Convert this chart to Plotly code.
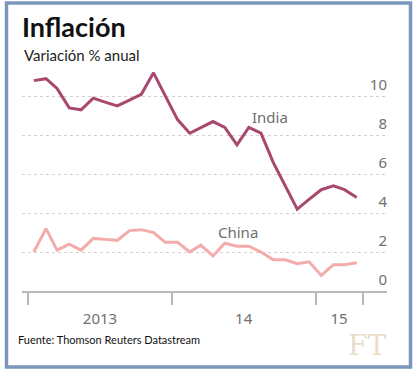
import plotly.graph_objects as go

months = [f"{y}-{m:02d}-15" for y, m in
          [(2013, m) for m in range(1, 13)] + [(2014, m) for m in range(1, 13)] + [(2015, m) for m in range(1, 5)]]

india = [10.8, 10.9, 10.4, 9.4, 9.3, 9.9, 9.7, 9.5, 9.8, 10.1, 11.2, 10.0,
         8.8, 8.1, 8.4, 8.7, 8.4, 7.5, 8.4, 8.1, 6.6, 5.4, 4.2, 4.7,
         5.2, 5.4, 5.2, 4.8]
china = [2.0, 3.2, 2.1, 2.4, 2.1, 2.7, 2.65, 2.6, 3.1, 3.15, 3.0, 2.5,
         2.5, 2.0, 2.35, 1.8, 2.45, 2.3, 2.3, 2.0, 1.6, 1.6, 1.4, 1.5,
         0.8, 1.35, 1.35, 1.45]

y_ticks = [0, 2, 4, 6, 8, 10]
x_tick_marks = ["2013-01-01", "2014-01-01", "2015-01-01", "2015-05-01"]
x_label_pos = ["2013-07-02", "2014-07-02", "2015-03-01"]
x_labels = ["2013", "14", "15"]

W, H = 414, 372
L, R, T, B = 22, 27, 67, 81
PW, PH = W - L - R, H - T - B


def px(x):
    return (x - L) / PW


def py(y):
    return (H - B - y) / PH


INDIA_C = "#a8486e"
CHINA_C = "#f3abab"
GRID_C = "#d8d0d0"
AXIS_C = "#b8b8b8"
TXT_C = "#707070"

fig = go.Figure()
fig.add_trace(go.Scatter(x=months, y=india, mode="lines", name="India",
                         line=dict(color=INDIA_C, width=3), hoverinfo="skip"))
fig.add_trace(go.Scatter(x=months, y=china, mode="lines", name="China",
                         line=dict(color=CHINA_C, width=3), hoverinfo="skip"))
# invisible traces for the label axes
fig.add_trace(go.Scatter(x=[months[0]], y=[0], xaxis="x2", yaxis="y2", mode="markers",
                         marker=dict(opacity=0), hoverinfo="skip", showlegend=False))

xrange = ["2012-12-16", "2015-07-01"]
yrange = [0, 11.5]
font = "Noto Sans, Open Sans, sans-serif"
cfont = "Lato, Noto Sans, sans-serif"

fig.update_layout(
    width=W, height=H, autosize=False,
    margin=dict(l=L, r=R, t=T, b=B, autoexpand=False),
    paper_bgcolor="white", plot_bgcolor="white",
    showlegend=False,
    font=dict(family=font, color=TXT_C, size=14),
    xaxis=dict(type="date", range=xrange, tickvals=x_tick_marks, showticklabels=False,
               ticks="outside", ticklen=12, tickwidth=1.5, tickcolor=AXIS_C,
               showline=True, linecolor=AXIS_C, linewidth=1.5, showgrid=False,
               zeroline=False, fixedrange=True, automargin=False),
    xaxis2=dict(type="date", range=xrange, overlaying="x", anchor="y", side="bottom",
                tickvals=x_label_pos, ticktext=x_labels, ticks="", showline=False,
                showgrid=False, zeroline=False, ticklabelstandoff=17,
                tickfont=dict(size=15, color=TXT_C), fixedrange=True, automargin=False),
    yaxis=dict(range=yrange, tickvals=y_ticks, showticklabels=False,
               ticks="", showgrid=True, gridcolor=GRID_C, griddash="dot", gridwidth=1,
               zeroline=False, showline=False, fixedrange=True, automargin=False),
    yaxis2=dict(range=yrange, tickvals=y_ticks, overlaying="y", anchor="free", position=1.0,
                side="left", ticks="", showgrid=False, zeroline=False, showline=False,
                ticklabelshift=-11, ticklabelstandoff=0,
                tickfont=dict(size=15, color=TXT_C), fixedrange=True, automargin=False),
)

annotations = [
    dict(text="<b>Inflación</b>", x=px(20), y=py(26), xref="paper", yref="paper",
         xanchor="left", yanchor="middle", showarrow=False,
         font=dict(family=cfont, size=27, color="#111111")),
    dict(text="Variación % anual", x=px(22), y=py(55), xref="paper", yref="paper",
         xanchor="left", yanchor="middle", showarrow=False,
         font=dict(family=cfont, size=15, color="#222222")),
    dict(text="Fuente: Thomson Reuters Datastream", x=px(16), y=py(339), xref="paper",
         yref="paper", xanchor="left", yanchor="middle", showarrow=False,
         font=dict(family=cfont, size=11, color="#111111")),
    dict(text="FT", x=px(388), y=py(345), xref="paper", yref="paper",
         xanchor="right", yanchor="middle", showarrow=False,
         font=dict(family="DejaVu Serif, Liberation Serif, serif", size=28, color="#eadccb")),
    dict(text="India", x="2014-07-17", y=8.95, xref="x", yref="y", xanchor="left",
         yanchor="middle", showarrow=False, font=dict(family=font, size=15, color=TXT_C)),
    dict(text="China", x="2014-04-22", y=3.05, xref="x", yref="y", xanchor="left",
         yanchor="middle", showarrow=False, font=dict(family=font, size=15, color=TXT_C)),
]
fig.update_layout(annotations=annotations)

fig.add_shape(type="rect", xref="paper", yref="paper",
              x0=px(6.5), x1=px(410.5), y0=py(3), y1=py(367),
              line=dict(color="#7b96bb", width=3.5), fillcolor="rgba(0,0,0,0)", layer="above")

fig.write_html(
    "out.html",
    config={"displayModeBar": False, "responsive": False},
    post_script="document.body.style.margin='0';document.body.style.overflow='hidden';",
)
